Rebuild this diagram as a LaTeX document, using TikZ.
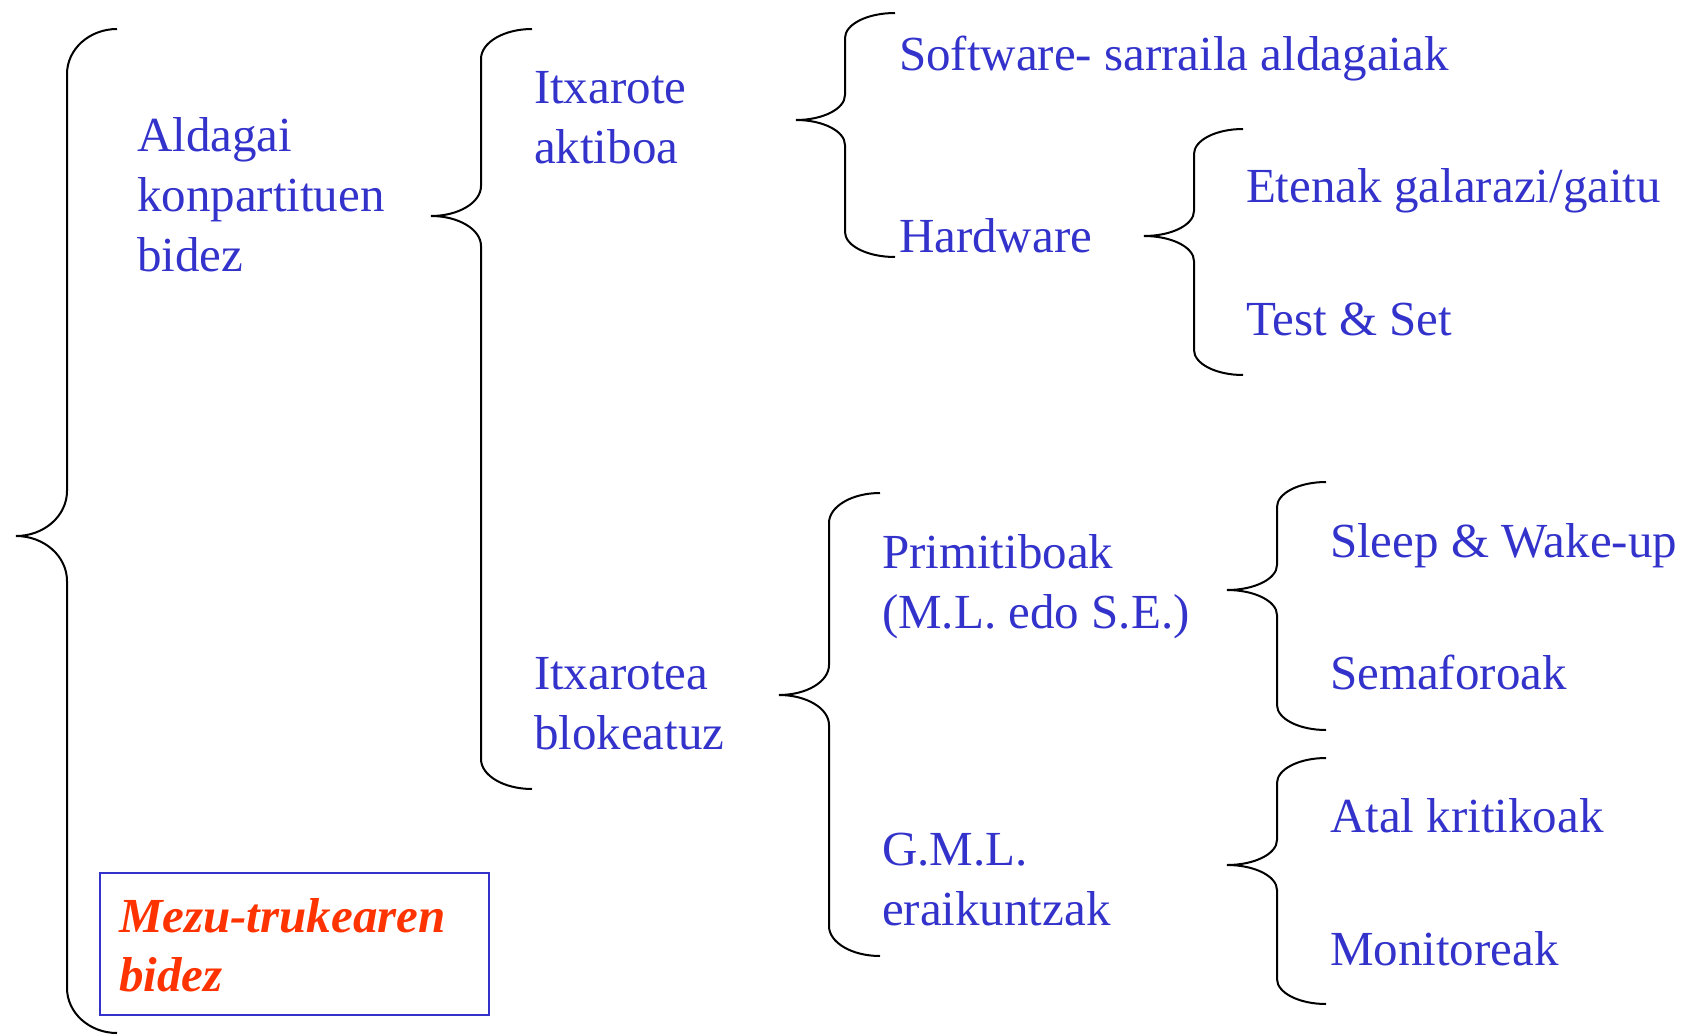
\documentclass[tikz,border=0pt]{standalone}
\usepackage{fontspec}
\setmainfont{Liberation Serif}
\definecolor{txtblue}{RGB}{51,51,204}
\definecolor{txtred}{RGB}{255,51,0}
\newcommand\brc[7]{%
  % #1 end x, #2 vertical x, #3 tip x, #4 top y, #5 mid y, #6 bottom y, #7 curve height
  \draw[bracel] (#1,#4) .. controls ({#1-0.552*(#1-#2)},#4) and (#2,{#4+0.448*#7}) .. (#2,{#4+#7})
    -- (#2,{#5-#7}) .. controls (#2,{#5-0.448*#7}) and ({#3+0.552*(#2-#3)},#5) .. (#3,#5)
    .. controls ({#3+0.552*(#2-#3)},#5) and (#2,{#5+0.448*#7}) .. (#2,{#5+#7})
    -- (#2,{#6-#7}) .. controls (#2,{#6-0.448*#7}) and ({#1-0.552*(#1-#2)},#6) .. (#1,#6);}
\begin{document}
\begin{tikzpicture}[x=1pt,y=-1pt,
  bracel/.style={line width=2pt,black},
  lbl/.style={anchor=base west,inner sep=0pt,outer sep=0pt,align=left,text=txtblue,
    font=\fontsize{49}{60}\selectfont},
  redlbl/.style={lbl,text=txtred,font=\fontsize{49}{59}\selectfont\bfseries\itshape},
  boxst/.style={draw=txtblue,line width=1.6pt,anchor=north west,minimum width=389pt,minimum height=142pt,inner sep=0pt}]
\useasboundingbox (0,0) rectangle (1695,1036);
% braces
\brc{117}{67}{16}{29}{536}{1033}{45}
\brc{532}{481}{431}{29}{216}{789}{30}
\brc{895}{845}{796}{13}{120}{257}{25}
\brc{1243}{1194}{1144}{129}{236}{375}{25}
\brc{880}{829}{779}{493}{695}{956}{30}
\brc{1326}{1277}{1227}{482}{590}{730}{25}
\brc{1326}{1277}{1227}{758}{865}{1004}{25}
% labels (base anchor of a multi-line node = baseline of its last line)
\node[lbl] (ald) at (137,271) {Aldagai\\konpartituen\\bidez};
\node[lbl] (itxa) at (534,163) {Itxarote\\aktiboa};
\node[lbl] (itxb) at (534,749) {Itxarotea\\blokeatuz};
\node[lbl] (soft) at (899,70) {Software- sarraila aldagaiak};
\node[lbl] (hard) at (899,252) {Hardware};
\node[lbl] (eten) at (1246,202) {Etenak galarazi/gaitu};
\node[lbl] (test) at (1246,335) {Test \& Set};
\node[lbl] (prim) at (882,628) {Primitiboak\\(M.L. edo S.E.)};
\node[lbl] (gml) at (882,925) {G.M.L.\\eraikuntzak};
\node[lbl] (sleep) at (1330,557) {Sleep \& Wake-up};
\node[lbl] (sema) at (1330,689) {Semaforoak};
\node[lbl] (atal) at (1330,832) {Atal kritikoak};
\node[lbl] (moni) at (1330,965) {Monitoreak};
\node[boxst] (box) at (99,872) {};
\node[redlbl] (mezu) at (119,991) {Mezu-trukearen\\bidez};
\end{tikzpicture}
\end{document}
